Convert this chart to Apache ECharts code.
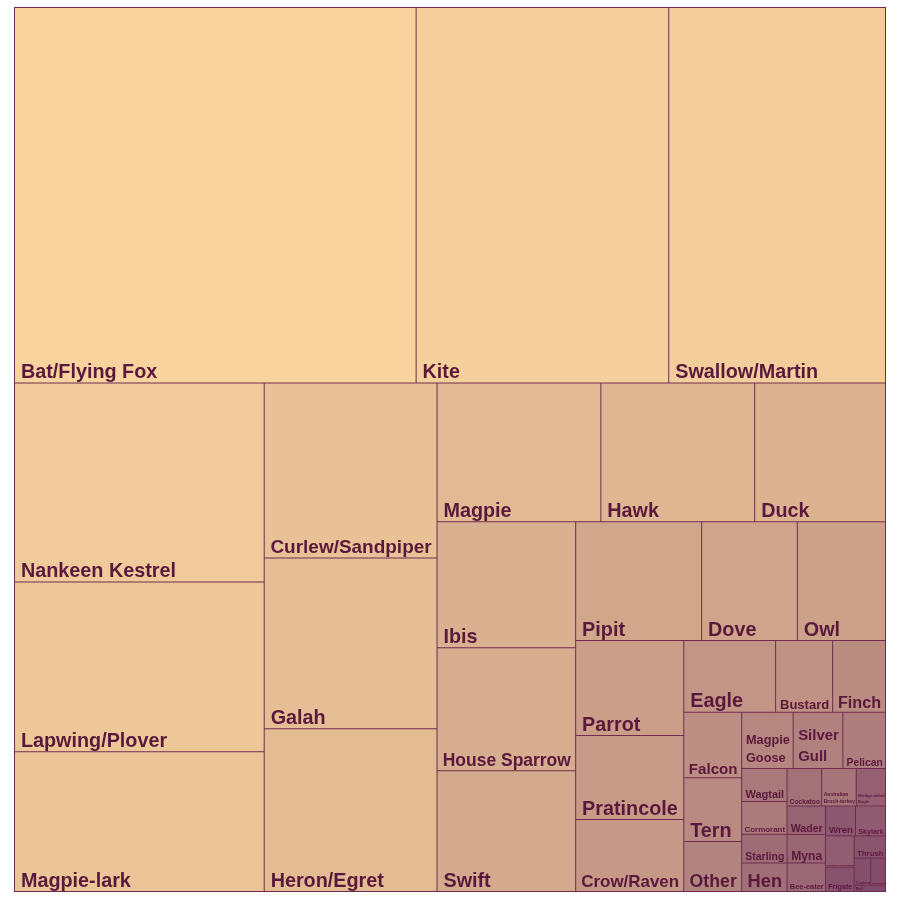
<!DOCTYPE html>
<html>
<head>
<meta charset="utf-8">
<script src="https://cdn.jsdelivr.net/npm/echarts@6/dist/echarts.min.js"></script>
<style>
  html, body { margin: 0; padding: 0; background: #ffffff; }
  #chart { width: 900px; height: 900px; }
</style>
</head>
<body>
<div id="chart"></div>
<script>
// ---- data ----
const categories = [
  "Bat/Flying Fox", "Kite", "Swallow/Martin", "Nankeen Kestrel", "Lapwing/Plover",
  "Magpie-lark", "Curlew/Sandpiper", "Galah", "Heron/Egret", "Magpie", "Hawk", "Duck",
  "Ibis", "House Sparrow", "Swift", "Pipit", "Dove", "Owl", "Parrot", "Pratincole",
  "Crow/Raven", "Eagle", "Bustard", "Falcon", "Finch", "Tern", "Magpie Goose", "Other",
  "Silver Gull", "Pelican", "Cormorant", "Wagtail", "Australian Brush-turkey", "Cockatoo",
  "Hen", "Starling", "Bee-eater", "Myna", "Wader", "Wedge-tailed Eagle",
  "Goshawk/Sparrowhawk", "Skylark", "Wren", "Thrush", "Frigate", "Cuckoo",
  "Swamphen/Coot", "Rail"
];
const strikes = [
  1512, 951, 816, 498, 425,
  350, 303, 296, 282, 228, 214, 182,
  175, 171, 168, 150, 114, 105, 103, 91,
  78, 66, 41, 38, 38, 37, 29, 29,
  28, 24, 15, 15, 13, 13,
  13, 13, 11, 11, 11, 11,
  9, 9, 9, 7, 7, 4.5,
  4, 2
];

// ---- styling ----
const HIGH = [248, 211, 157];
const LOW = [127, 73, 105];
const TEXT_COLOR = '#5a193c';
const BORDER_COLOR = '#6f2d4f';
const FONT = '"Liberation Sans", Arial, Helvetica, sans-serif';
const MAX_FS = 19.8;

const n = categories.length;
const order = categories.map((_, i) => i).sort((a, b) => strikes[b] - strikes[a]);
const rank = new Array(n);
order.forEach((idx, r) => { rank[idx] = r; });

function colorFor(r) {
  const t = r / (n - 1);
  const c = HIGH.map((h, k) => Math.round(h + (LOW[k] - h) * t));
  return 'rgb(' + c.join(',') + ')';
}

const chart = echarts.init(document.getElementById('chart'), null, { renderer: 'canvas' });

function buildData(labelInfo) {
  return categories.map((name, i) => {
    const item = {
      name: name,
      value: strikes[i],
      itemStyle: { color: colorFor(rank[i]) }
    };
    const li = labelInfo && labelInfo[name];
    if (li) {
      item.label = {
        fontSize: li.fs,
        lineHeight: li.lines > 1 ? li.fs * 1.45 : li.fs,
        padding: [0, 0, 0, li.fs * 0.3],
        distance: 0
      };
    }
    return item;
  });
}

const textMap = {};

function makeOption(labelInfo) {
  return {
    animation: false,
    series: [{
      type: 'treemap',
      left: 14, top: 7, width: 872, height: 885,
      roam: false,
      nodeClick: false,
      squareRatio: 1.16,
      breadcrumb: { show: false },
      visibleMin: 0,
      itemStyle: { borderColor: BORDER_COLOR, borderWidth: 0.5, gapWidth: 0 },
      label: {
        show: true,
        position: 'insideBottomLeft',
        distance: 0,
        padding: [0, 0, 0, 6],
        color: TEXT_COLOR,
        fontFamily: FONT,
        fontWeight: 'bold',
        fontSize: MAX_FS,
        lineHeight: MAX_FS,
        overflow: 'none',
        formatter: p => textMap[p.name] || p.name
      },
      emphasis: { disabled: true },
      data: buildData(labelInfo)
    }]
  };
}

chart.setOption(makeOption(null));

// ---- fit label sizes to the cells the library laid out ----
try {
  const cv = document.createElement('canvas').getContext('2d');
  cv.font = 'bold 100px ' + FONT;
  const perPx = s => cv.measureText(s).width / 100;
  const seriesModel = chart.getModel().getSeriesByIndex(0);
  const root = seriesModel.getViewRoot ? seriesModel.getViewRoot() : seriesModel.getData().tree.root;
  const info = {};
  const fitLines = (lines, w, h) => {
    const mw = Math.max(...lines.map(perPx));
    const fsW = w / (mw + 0.6);
    const fsH = (h - 2) / (lines.length === 1 ? 1.2 : lines.length * 1.45);
    return Math.min(MAX_FS, fsW, fsH);
  };
  root.children.forEach(node => {
    const lay = node.getLayout();
    if (!lay) return;
    const name = node.name;
    const w = lay.width, h = lay.height;
    let best = { fs: fitLines([name], w, h), lines: [name] };
    if (best.fs < 0.8 * MAX_FS) {
      const words = name.split(' ');
      for (let k = 1; k < words.length; k++) {
        const lines = [words.slice(0, k).join(' '), words.slice(k).join(' ')];
        const fs = fitLines(lines, w, h);
        if (fs > best.fs + 0.3) best = { fs, lines };
      }
    }
    info[name] = { fs: Math.max(1, best.fs), lines: best.lines.length };
    textMap[name] = best.lines.join('\n');
  });
  chart.setOption(makeOption(info), { replaceMerge: ['series'] });
} catch (e) {
  console.error(e);
}
</script>
</body>
</html>
